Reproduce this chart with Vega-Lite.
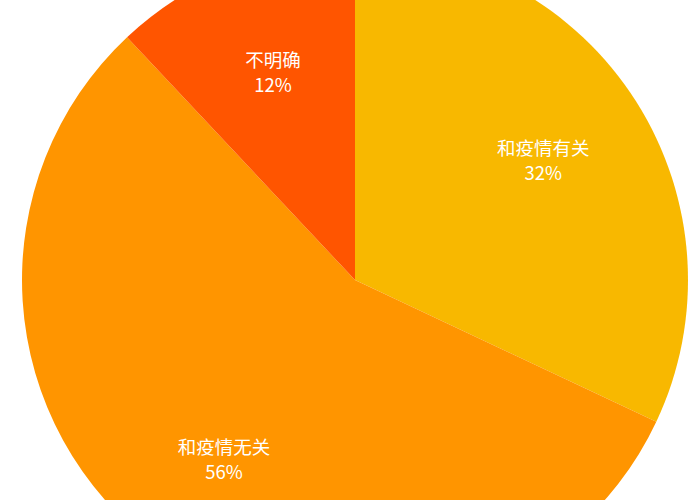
{
  "$schema": "https://vega.github.io/schema/vega-lite/v6.json",
  "width": 710,
  "height": 560,
  "autosize": {"type": "none"},
  "padding": 0,
  "background": "white",
  "config": {"view": {"stroke": null}},
  "data": {
    "values": [
      {"category": "和疫情有关", "share": 32, "order": 1},
      {"category": "和疫情无关", "share": 56, "order": 2},
      {"category": "不明确", "share": 12, "order": 3}
    ]
  },
  "transform": [
    {"calculate": "datum.category + '\\n' + datum.share + '%'", "as": "label"}
  ],
  "encoding": {
    "theta": {"field": "share", "type": "quantitative", "stack": true},
    "order": {"field": "order", "type": "quantitative"}
  },
  "layer": [
    {
      "mark": {"type": "arc", "outerRadius": 333},
      "encoding": {
        "color": {
          "field": "category",
          "type": "nominal",
          "legend": null,
          "scale": {
            "domain": ["和疫情有关", "和疫情无关", "不明确"],
            "range": ["#F8B800", "#FF9500", "#FF5500"]
          }
        }
      }
    },
    {
      "mark": {
        "type": "text",
        "radius": 223,
        "dy": -12,
        "font": "Noto Sans CJK SC",
        "fontSize": 18.5,
        "lineBreak": "\n",
        "lineHeight": 25,
        "align": "center",
        "baseline": "middle"
      },
      "encoding": {
        "text": {"field": "label"},
        "color": {"value": "white"}
      }
    }
  ]
}
